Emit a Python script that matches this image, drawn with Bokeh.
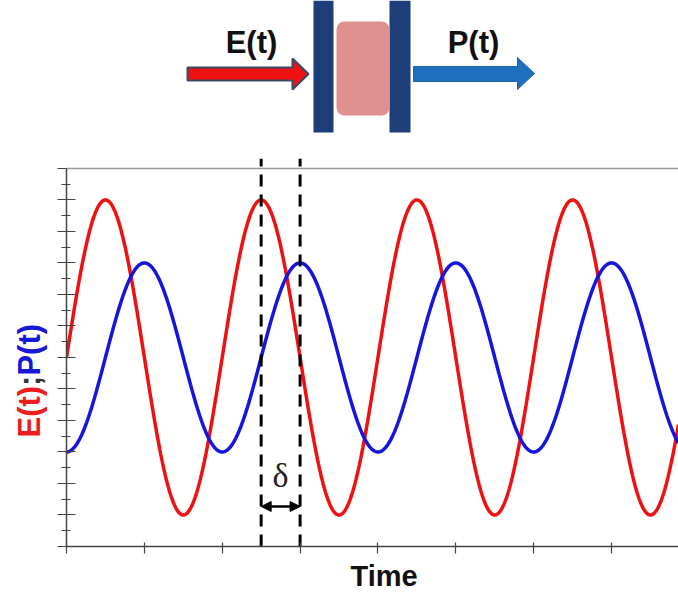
import numpy as np
from bokeh.plotting import figure
from bokeh.layouts import column, row
from bokeh.models import Range1d, FixedTicker, Span, Label, Arrow, NormalHead, Title
from bokeh.embed import file_html
from bokeh.resources import INLINE
from bokeh.core.properties import value

# ---------------- data ----------------
x_ticks = [0, 1, 2, 3, 4, 5, 6, 7]
y_major_ticks = [-1.2, -1.0, -0.8, -0.6, -0.4, -0.2, 0.0, 0.2, 0.4, 0.6, 0.8, 1.0, 1.2]
y_minor_ticks = [-1.1, -0.9, -0.7, -0.5, -0.3, -0.1, 0.1, 0.3, 0.5, 0.7, 0.9, 1.1]
E_amplitude = 1.0      # field E(t)
P_amplitude = 0.6      # polarisation P(t)
period = 2.0           # time units per cycle
delta = 0.5            # lag of P(t) behind E(t)
t_end = 7.86           # visible time span
E_peak_time = 2.5      # peak of E marked by the first dashed line
axis_label_parts = ["E(t)", ";", "P(t)"]
axis_label_colors = ["#ee1c1c", "#333333", "#1717d8"]
x_title = "Time"

# ---------------- curves ----------------
t = np.linspace(0, t_end, 800)
E = E_amplitude * np.sin(2 * np.pi * t / period)
P = P_amplitude * np.sin(2 * np.pi * (t - delta) / period)
P_peak_time = E_peak_time + delta

y_lo, y_axis_top, y_hi = -1.2, 1.2, 1.263

FONT = "Liberation Sans"

# ---------------- top diagram ----------------
top = figure(width=678, height=150, x_range=Range1d(0, 678), y_range=Range1d(150, 0),
             x_axis_type=None, y_axis_type=None, toolbar_location=None,
             output_backend="svg", min_border=0, outline_line_color=None)
top.grid.visible = False

top.patch([187, 292, 292, 308, 292, 292, 187], [67, 67, 58, 73.5, 89, 80, 80],
          fill_color="#ee1111", line_color="#3b4868", line_width=2)
top.patch([413, 517, 517, 534, 517, 517, 413], [66, 66, 57, 73, 89, 81, 81],
          fill_color="#1f6fbf", line_color="#1b62a8", line_width=1)
top.quad(left=[313, 389], right=[333, 410], top=[0, 0], bottom=[132, 132],
         fill_color="#1d3e78", line_color=None)
top.quad(left=336, right=389, top=21, bottom=115, fill_color="#e0908f",
         line_color=None, border_radius=8)
top.text(x=[251, 473], y=[42, 42], text=["E(t)", "P(t)"], text_align="center",
         text_baseline="middle", text_font=value(FONT),
         text_font_style="bold", text_font_size="31px", text_color="#111111")

# ---------------- main chart ----------------
p = figure(width=626, height=448, x_range=Range1d(0, t_end), y_range=Range1d(y_lo, y_hi),
           toolbar_location=None, output_backend="svg",
           min_border_left=14, min_border_right=0, min_border_top=8, min_border_bottom=52,
           outline_line_color=None)
p.grid.visible = False

p.xaxis.ticker = FixedTicker(ticks=x_ticks)
p.yaxis.ticker = FixedTicker(ticks=y_major_ticks, minor_ticks=y_minor_ticks)
p.yaxis.bounds = (y_lo, y_axis_top)
p.xaxis.bounds = (-0.04, t_end)
for ax in (p.xaxis[0], p.yaxis[0]):
    ax.major_label_text_font_size = "0px"
    ax.major_label_text_color = None
    ax.major_label_standoff = 0
    ax.axis_line_color = "#444444"
    ax.axis_line_width = 1.5
    ax.major_tick_line_color = "#444444"
    ax.minor_tick_line_color = "#444444"
    ax.major_tick_line_width = 1.2
    ax.minor_tick_line_width = 1.2
p.xaxis.major_tick_in = 4
p.xaxis.major_tick_out = 7
p.xaxis.minor_tick_line_color = None
p.yaxis.major_tick_in = 9
p.yaxis.major_tick_out = 9
p.yaxis.minor_tick_in = 4
p.yaxis.minor_tick_out = 5

p.add_layout(Title(text=x_title, align="left", offset=284, standoff=8,
                   text_font=FONT, text_font_style="bold", text_font_size="29px",
                   text_color="#111111"), "below")

p.add_layout(Span(location=y_axis_top, dimension="width", line_color="#999999", line_width=1.5))

p.line(t, E, line_color="#ee1111", line_width=3.5)
p.line(t, P, line_color="#1515dd", line_width=3.5)

p.segment(x0=[E_peak_time, P_peak_time], y0=[y_lo, y_lo], x1=[E_peak_time, P_peak_time],
          y1=[y_hi, y_hi], line_color="black", line_width=3, line_dash="12 8")

p.add_layout(Arrow(x_start=E_peak_time, x_end=P_peak_time, y_start=-0.946, y_end=-0.946,
                   line_width=2.5, line_color="black",
                   start=NormalHead(size=10, fill_color="black", line_color="black"),
                   end=NormalHead(size=10, fill_color="black", line_color="black")))
p.add_layout(Label(x=(E_peak_time + P_peak_time) / 2, y=-0.75, text="δ",
                   text_align="center", text_baseline="middle",
                   text_font="Liberation Serif", text_font_size="34px", text_color="#222222"))

# ---------------- y label strip (shares the chart's vertical scale) ----------------
ylab = figure(width=52, height=448, x_range=Range1d(0, 52), y_range=p.y_range,
              x_axis_type=None, y_axis_type=None, toolbar_location=None,
              output_backend="svg", min_border_left=0, min_border_right=0,
              min_border_top=8, min_border_bottom=52, outline_line_color=None)
ylab.grid.visible = False
px_per_unit = 157.5
part_px = [51.6, 10.3, 51.6]
label_start = -0.508
ys = [label_start + sum(part_px[:i]) / px_per_unit for i in range(3)]
ylab.text(x=[29, 29, 29], y=ys, text=axis_label_parts, angle=np.pi / 2,
          text_align="left", text_baseline="middle", text_font=value(FONT),
          text_font_style="bold", text_font_size="31px", text_color=axis_label_colors)

layout = column(top, row(ylab, p, spacing=0), spacing=0)
open("out.html", "w").write(file_html(layout, INLINE))
